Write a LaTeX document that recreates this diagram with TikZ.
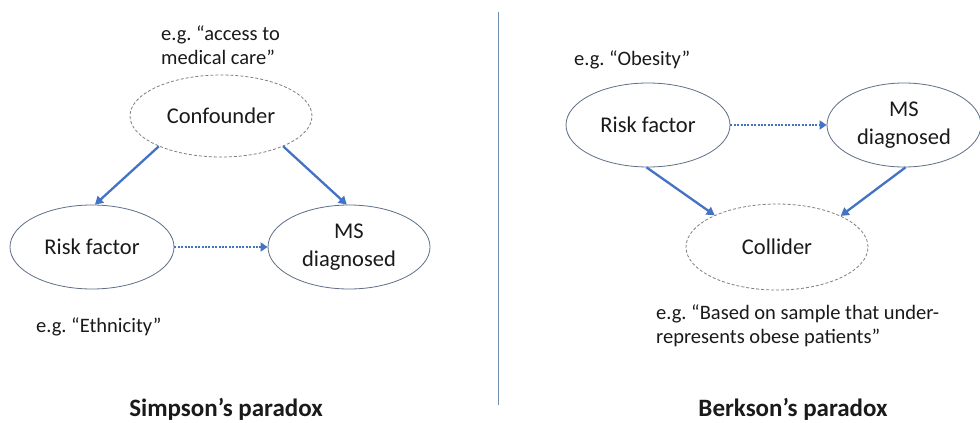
\documentclass[tikz,border=0pt]{standalone}
\usepackage{fontspec}
\setmainfont{Carlito}
\usetikzlibrary{shapes.geometric,arrows.meta}
\definecolor{arrowblue}{HTML}{4472C4}
\definecolor{rimgray}{HTML}{5F6F86}
\definecolor{dashgray}{HTML}{7F7F7F}
\definecolor{divider}{HTML}{6F8DB0}
\definecolor{ink}{HTML}{1A1A1A}
\tikzset{
  var/.style={ellipse, draw=rimgray, line width=0.8pt, inner sep=0pt,
    text=ink, font=\frenchspacing\fontsize{22.5}{29}\selectfont, align=center},
  hidden/.style={var, draw=dashgray, dash pattern=on 3pt off 2pt},
  effect/.style={draw=arrowblue, line width=2.3pt,
    -{Triangle[length=8pt,width=9pt]}},
  weak/.style={draw=arrowblue, line width=2.8pt, dash pattern=on 2pt off 1.4pt,
    -{Triangle[length=7pt,width=9pt]}},
  note/.style={text=ink, font=\frenchspacing\fontsize{20.5}{24}\selectfont, align=left,
    inner sep=0pt, anchor=west},
  caption/.style={text=ink, font=\bfseries\fontsize{25}{28}\selectfont, inner sep=0pt}
}
\begin{document}
\begin{tikzpicture}[x=1pt,y=-1pt]
  \useasboundingbox[fill=white] (0,0) rectangle (980,423);

  % divider between the two panels
  \draw[divider, line width=1pt] (498,12) -- (498,405);

  % ---- Simpson's paradox ----
  \node[hidden, minimum width=182pt, minimum height=82pt] (conf) at (221,116) {Confounder};
  \node[var, minimum width=164pt, minimum height=84pt] (rfA) at (92,247) {Risk factor};
  \node[var, minimum width=162pt, minimum height=84pt] (msA) at (349,247) {MS\\[-1pt]diagnosed};

  \node[note] (noteconf) at (161,45.5) {e.g. “access to\\medical care”};
  \node[note] (noteeth) at (36,327) {e.g. “Ethnicity”};
  \node[caption] (capA) at (226,409) {Simpson’s paradox};

  \draw[effect] (conf.206) -- (rfA.86);
  \draw[effect] (conf.334) -- (msA.93);
  \draw[weak] (rfA.east) -- (msA.west);

  % ---- Berkson's paradox ----
  \node[var, minimum width=164pt, minimum height=84pt] (rfB) at (648,125) {Risk factor};
  \node[var, minimum width=154pt, minimum height=84pt] (msB) at (904,125) {MS\\[-1pt]diagnosed};
  \node[hidden, minimum width=182pt, minimum height=86pt] (coll) at (777,247) {Collider};

  \node[note] (noteob) at (574,60) {e.g. “Obesity”};
  \node[note] (notecoll) at (656,326) {e.g. “Based on sample that under-\\represents obese patients”};
  \node[caption] (capB) at (793,409) {Berkson’s paradox};

  \draw[effect] (rfB.268) -- (coll.153);
  \draw[effect] (msB.272) -- (coll.26);
  \draw[weak] (rfB.east) -- (msB.west);
\end{tikzpicture}
\end{document}
